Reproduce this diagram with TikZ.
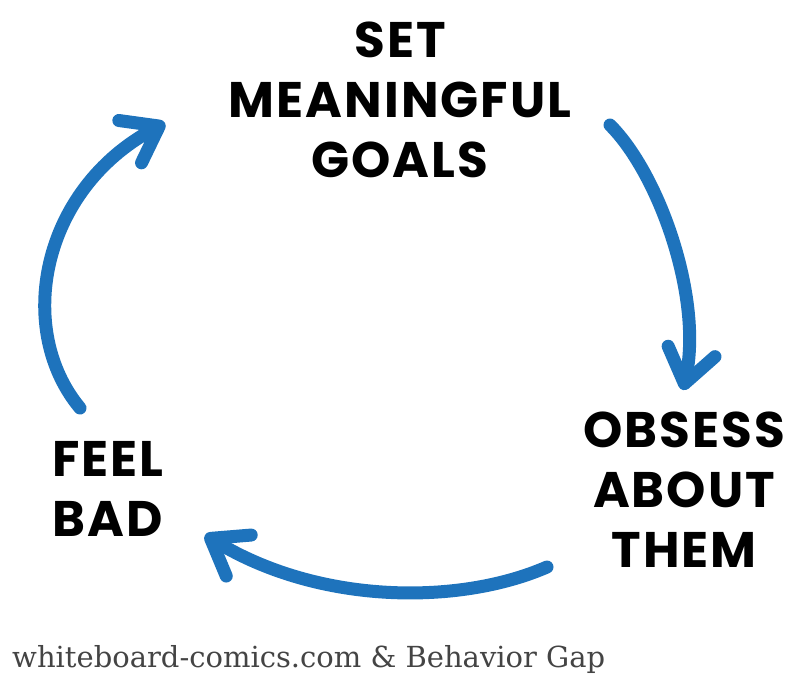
\documentclass[tikz,border=0pt]{standalone}
\usepackage{fontspec}
\usetikzlibrary{arrows.meta}
\usetikzlibrary{positioning}

\newfontfamily\handfont{Poppins}[LetterSpace=4]
\newfontfamily\creditfont{DejaVu Serif}

\begin{document}
\begin{tikzpicture}[x=1pt,y=-1pt]

		    \definecolor{cyclecolor}{RGB}{30,115,188}
		    \definecolor{creditcolor}{RGB}{68,68,68}
		    \tikzset{cycletext/.style={align=center,inner sep=0pt,font=\handfont\bfseries\fontsize{50}{60}\selectfont},
		             cyclearrow/.style={-{Straight Barb[length=33pt,width=48pt,round]},line width=13pt,line cap=round,cyclecolor}}
		    \useasboundingbox (0,0) rectangle (800,673);

		    \node(goals) [cycletext] at (400,100) {SET\\MEANINGFUL\\GOALS};
		    \node(obsess) [cycletext] at (684,490) {OBSESS\\ABOUT\\THEM};
		    \node(feelbad) [cycletext] at (108,489) {FEEL\\BAD};
		    \node(credit) [anchor=base west,text=creditcolor,inner sep=0pt,font=\creditfont\fontsize{29}{32}\selectfont] at (12,667) {whiteboard-comics.com \& Behavior Gap};

% 		    ends of the three arrows
		    \coordinate (goalsout) at (610,125);
		    \coordinate (obsessin) at (683,390);
		    \coordinate (obsessout) at (547,567);
		    \coordinate (feelbadin) at (205,535);
		    \coordinate (feelbadout) at (80,408);
		    \coordinate (goalsin) at (165,123);

		    \draw[cyclearrow] (goalsout) .. controls (660,175) and (703,300) .. (obsessin);
		    \draw[cyclearrow] (obsessout) .. controls (460,605) and (320,605) .. (feelbadin);
		    \draw[cyclearrow] (feelbadout) .. controls (15,330) and (40,190) .. (goalsin);

\end{tikzpicture}
\end{document}
